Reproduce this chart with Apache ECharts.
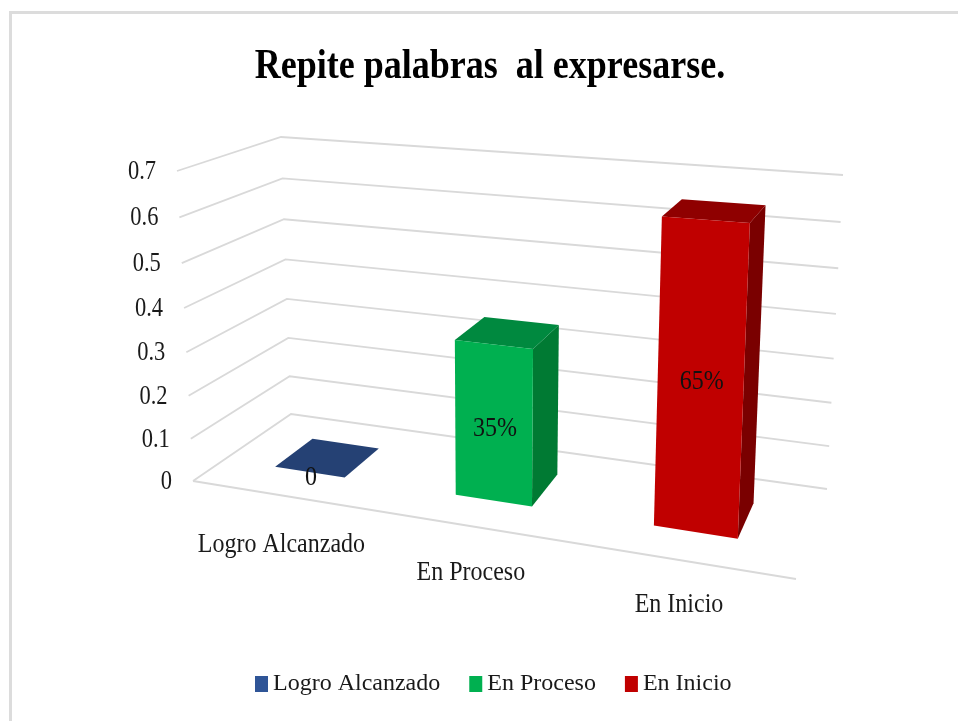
<!DOCTYPE html>
<html>
<head>
<meta charset="utf-8">
<title>Repite palabras al expresarse.</title>
<script src="https://cdn.jsdelivr.net/npm/echarts@6/dist/echarts.min.js"></script>
<style>
  html, body { margin: 0; padding: 0; background: #fff; }
  #main { width: 958px; height: 721px; }
</style>
</head>
<body>
<div id="main"></div>
<script>
  var chartTitle = 'Repite palabras  al expresarse.';
  var categories = ['Logro Alcanzado', 'En Proceso', 'En Inicio'];
  var values = [0, 0.35, 0.65];
  var valueLabels = ['0', '35%', '65%'];
  var yTicks = [0, 0.1, 0.2, 0.3, 0.4, 0.5, 0.6, 0.7];
  var frontColors = ['#2F5597', '#00B050', '#C00000'];
  var topColors = ['#254174', '#00893F', '#8F0000'];
  var sideColors = ['#1D3461', '#007A33', '#7A0000'];

  var serif = '"Liberation Serif", "Times New Roman", serif';
  var textStretch = 1.18; // el original esta estirado en vertical

  // caja 3D vista en pantalla: esquinas del piso y del techo
  var floorBox = { fl: [193, 481], fr: [796, 579], bl: [291, 414], br: [827, 489] };
  var roofBox = { fl: [177, 171], fr: [813, 216], bl: [281, 137], br: [843, 175] };
  var depthFront = 0.33, depthBack = 0.735, barShare = 0.198, barShift = -3;

  function lerp(a, b, f) {
    return [a[0] + (b[0] - a[0]) * f, a[1] + (b[1] - a[1]) * f];
  }
  function foreshorten(f, k) {
    return k * f / (1 + (k - 1) * f);
  }
  // t: fraccion del eje x, s: fraccion del eje y, w: profundidad
  function project(t, s, w) {
    var u = foreshorten(t, 0.869);
    var v = foreshorten(s, 0.947);
    var floorPt = lerp(lerp(floorBox.fl, floorBox.fr, u), lerp(floorBox.bl, floorBox.br, u), w);
    var roofPt = lerp(lerp(roofBox.fl, roofBox.fr, u), lerp(roofBox.bl, roofBox.br, u), w);
    return lerp(floorPt, roofPt, v);
  }
  // pasa por las escalas del grid (oculto) y luego a la caja 3D
  function fromAxes(params, api, cat, val, offset, w) {
    var rect = params.coordSys;
    var c = api.coord([cat, val]);
    var t = (c[0] + offset - rect.x) / rect.width;
    var s = (rect.y + rect.height - c[1]) / rect.height;
    return project(t, s, w);
  }
  function textEl(str, x, y, size, align, color) {
    return {
      type: 'text',
      x: x,
      y: y,
      scaleY: textStretch,
      z2: 10,
      style: {
        text: str,
        fill: color || '#1a1a1a',
        fontFamily: serif,
        fontSize: size,
        align: align,
        verticalAlign: 'middle'
      }
    };
  }

  function renderWall(params, api) {
    var tick = api.value(1);
    var rect = params.coordSys;
    var s = (rect.y + rect.height - api.coord([0, tick])[1]) / rect.height;
    var a = project(0, s, 0), b = project(0, s, 1), c = project(1, s, 1);
    return {
      type: 'group',
      children: [
        {
          type: 'polyline',
          shape: { points: [a, b, c] },
          style: { stroke: '#d9d9d9', lineWidth: 1.8, fill: null }
        },
        textEl(String(tick), a[0] - 21, a[1] + 1, 22.5, 'right')
      ]
    };
  }

  function renderFloor(params, api) {
    var a = project(0, 0, 0), b = project(1, 0, 0);
    return {
      type: 'line',
      shape: { x1: a[0], y1: a[1], x2: b[0], y2: b[1] },
      style: { stroke: '#d9d9d9', lineWidth: 1.8 }
    };
  }

  function renderBar(params, api) {
    var cat = api.value(0), val = api.value(1);
    var half = api.size([1, 0])[0] * barShare;
    var i = cat;
    var fl0 = fromAxes(params, api, cat, 0, barShift - half, depthFront);
    var fr0 = fromAxes(params, api, cat, 0, barShift + half, depthFront);
    var br0 = fromAxes(params, api, cat, 0, barShift + half, depthBack);
    var fl1 = fromAxes(params, api, cat, val, barShift - half, depthFront);
    var fr1 = fromAxes(params, api, cat, val, barShift + half, depthFront);
    var br1 = fromAxes(params, api, cat, val, barShift + half, depthBack);
    var bl1 = fromAxes(params, api, cat, val, barShift - half, depthBack);
    var edge = fromAxes(params, api, cat, 0, 0, 0);
    var t = (api.coord([cat, 0])[0] - params.coordSys.x) / params.coordSys.width;
    var midX = (fl0[0] + fr0[0] + fl1[0] + fr1[0]) / 4;
    var midY = (fl0[1] + fr0[1] + fl1[1] + fr1[1]) / 4;
    var children = [];
    if (val > 0) {
      children.push({
        type: 'polygon',
        shape: { points: [fr0, br0, br1, fr1] },
        style: { fill: sideColors[i] }
      });
    }
    children.push({
      type: 'polygon',
      shape: { points: [fl1, fr1, br1, bl1] },
      style: { fill: topColors[i] }
    });
    if (val > 0) {
      children.push({
        type: 'polygon',
        shape: { points: [fl0, fr0, fr1, fl1] },
        style: { fill: frontColors[i] }
      });
    }
    children.push(textEl(valueLabels[i], midX + 1, midY + 5.5, 24, 'center', '#111'));
    children.push(textEl(categories[i], edge[0] - 5 * t, edge[1] + 50.5 - 8 * t, 24, 'center'));
    return { type: 'group', children: children };
  }

  var barSeries = categories.map(function (name, i) {
    return {
      type: 'custom',
      name: name,
      coordinateSystem: 'cartesian2d',
      renderItem: renderBar,
      data: [[i, values[i]]],
      encode: { x: 0, y: 1 },
      itemStyle: { color: frontColors[i] },
      clip: false,
      silent: true,
      z: 3
    };
  });

  var myChart = echarts.init(document.getElementById('main'));
  myChart.setOption({
    animation: false,
    backgroundColor: '#fff',
    tooltip: { show: false },
    graphic: [
      { type: 'rect', shape: { x: 9, y: 11, width: 3, height: 710 }, style: { fill: '#dcdcdc' } },
      { type: 'rect', shape: { x: 9, y: 11, width: 949, height: 3 }, style: { fill: '#dcdcdc' } },
      {
        type: 'text',
        x: 490,
        y: 67,
        scaleY: textStretch,
        style: {
          text: chartTitle,
          fill: '#000',
          fontFamily: serif,
          fontWeight: 'bold',
          fontSize: 36,
          align: 'center',
          verticalAlign: 'middle'
        }
      }
    ],
    legend: {
      data: categories,
      left: 250,
      top: 667,
      icon: 'rect',
      itemWidth: 13,
      itemHeight: 16,
      itemGap: 29,
      textStyle: { fontFamily: serif, fontSize: 24, color: '#1a1a1a' },
      selectedMode: false
    },
    grid: { left: 0, top: 0, width: 900, height: 600, show: false },
    xAxis: { type: 'category', data: categories, show: false },
    yAxis: { type: 'value', min: 0, max: 0.7, interval: 0.1, show: false },
    series: [
      {
        type: 'custom',
        name: 'paredes',
        renderItem: renderWall,
        data: yTicks.map(function (v) { return [0, v]; }),
        encode: { x: 0, y: 1 },
        clip: false,
        silent: true,
        z: 1
      },
      {
        type: 'custom',
        name: 'piso',
        renderItem: renderFloor,
        data: [[0, 0]],
        clip: false,
        silent: true,
        z: 1
      }
    ].concat(barSeries)
  });
</script>
</body>
</html>
